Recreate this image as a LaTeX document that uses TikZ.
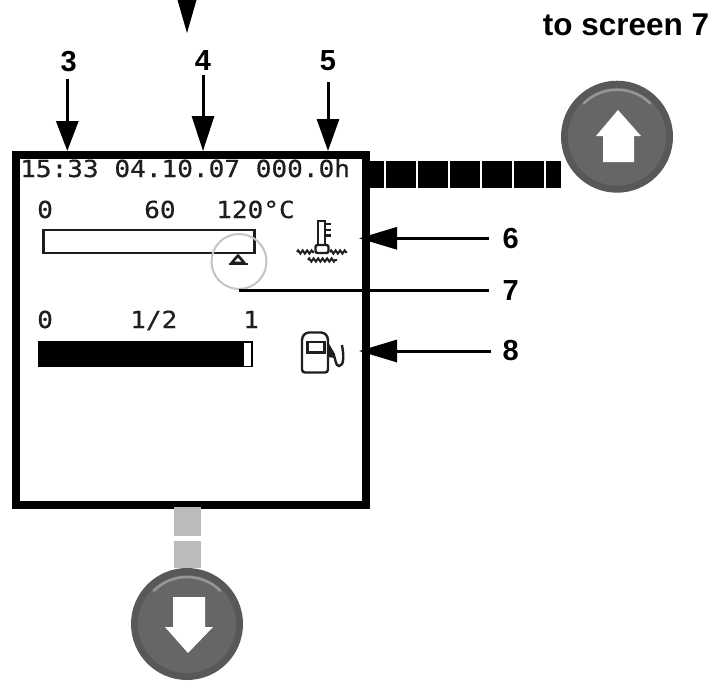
\documentclass[tikz,border=0pt]{standalone}
\usepackage{fontspec}
\setmainfont{Liberation Sans}
\newfontfamily\lcdfont[FakeBold=0.5]{DejaVu Sans Mono}
\usetikzlibrary{arrows.meta,positioning,decorations.pathmorphing}
\definecolor{lcdink}{RGB}{30,30,30}
\definecolor{ringgray}{RGB}{196,196,196}
\definecolor{linkgray}{RGB}{187,187,187}
\definecolor{btnedge}{RGB}{88,88,88}
\definecolor{btnface}{RGB}{102,102,102}
\definecolor{btnglow}{RGB}{150,150,150}
\tikzset{
  lbl/.style={font=\fontsize{29}{29}\selectfont\bfseries,text=black,inner sep=4pt},
  lcdtxt/.style={font=\fontsize{23.5}{24}\lcdfont,text=lcdink,anchor=base west,inner sep=0pt,xscale=1.11},
  lcdline/.style={draw=lcdink,line width=2.6pt},
  iconline/.style={draw=lcdink,line width=2.4pt},
  wave/.style={draw=lcdink,line width=2pt,decorate,decoration={zigzag,segment length=4.5pt,amplitude=1.6pt}},
  fl/.style={-{Stealth[length=#1,width=22pt,inset=0pt]},line width=3pt,draw=black},
  fl/.default=30pt,
  btn/.style={circle,minimum size=112pt,inner sep=0pt,fill=btnedge,
    path picture={
      \fill[btnface] (path picture bounding box.center) circle (49pt);
      \draw[btnglow,line width=2.5pt,line cap=round,shift={(path picture bounding box.center)}]
        (225:47) arc (225:315:47);
    }},
  btnarrow/.style={fill=white},
  blocks/.style={draw=black,line width=27pt,dash pattern=on 29.7pt off 2.3pt,dash phase=16pt},
  graylink/.style={draw=linkgray,line width=27pt,dash pattern=on 29pt off 5pt},
}
\begin{document}
\begin{tikzpicture}[x=1pt,y=-1pt]
  \useasboundingbox (0,0) rectangle (728,680);
  \node[draw=black,line width=8pt,minimum width=350pt,minimum height=350pt,fill=white] (screen) at (191,330) {};
  \node[btn] (upbtn) at (617,136.7) {};
  \node[btn] (downbtn) at (187,624) {};
  \fill[btnarrow] (618,110) -- (641,136) -- (634,136) -- (634,162) -- (603,162) -- (603,136) -- (596,136) -- cycle;
  \fill[btnarrow] (188,653) -- (213,627) -- (205,627) -- (205,597) -- (173,597) -- (173,627) -- (165,627) -- cycle;
  \coordinate (blocky) at (0,174.5);
  \draw[blocks] (screen.east |- blocky) -- (upbtn.west |- blocky);
  \draw[graylink] (187.5,507) -- (187.5,567.5);

  \node[lcdtxt] (clock) at (20,177) {15:33 04.10.07 000.0h};
  \node[lcdtxt] (tempmin) at (37,218) {0};
  \node[lcdtxt] (tempmid) at (144,218) {60};
  \node[lcdtxt] (tempmax) at (216,218) {120°C};
  \node[lcdtxt] (fuelmin) at (37,328) {0};
  \node[lcdtxt] (fuelmid) at (130,328) {1/2};
  \node[lcdtxt] (fuelmax) at (243,328) {1};

  \node[lcdline,minimum width=211pt,minimum height=23pt,inner sep=0pt] (tempbar) at (148.7,241.5) {};
  \draw[lcdline,fill=white,line join=round] (238,255.5) -- (231.5,263) -- (244.5,263) -- cycle;
  \draw[lcdline] (229,264) -- (248,264);
  \node[circle,draw=ringgray,line width=2pt,minimum size=55pt,inner sep=0pt] (ring) at (239,261.5) {};

  \node[draw=black,fill=black,minimum width=214pt,minimum height=25pt,inner sep=0pt,line width=1pt] (fuelbar) at (145.5,354) {};
  \node[fill=white,minimum width=6.5pt,minimum height=23pt,inner sep=0pt] (fuelrest) at (247.5,354.3) {};

  \draw[iconline] (318,245) -- (318,221) -- (325,221) -- (325,245);
  \draw[iconline] (325,224) -- (331,224) (325,230) -- (331,230) (325,235.5) -- (331,235.5);
  \draw[iconline,rounded corners=2pt] (315.5,245) rectangle (328.5,253);
  \draw[wave] (297,252) -- (314,252);
  \draw[wave] (330,252) -- (347,252);
  \draw[wave] (308,260) -- (337,260);

  \draw[iconline,rounded corners=3pt] (302,372.5) -- (302,337) -- (306,332.5) -- (324,332.5) -- (328,337) -- (328,372.5) -- cycle;
  \draw[iconline] (307.5,342) rectangle (324.5,352.5);
  \fill[lcdink] (328,342) -- (335,354) -- (335,358) -- (328,357) -- cycle;
  \draw[iconline] (333,354) .. controls (336,358) and (335,366) .. (339,366) .. controls (344,366) and (344,356) .. (342,345);

  \node[font=\fontsize{31.5}{32}\selectfont\bfseries,inner sep=0pt] (toscreen) at (626,25) {to screen 7};
  \node[lbl] (lblthree) at (68.7,62) {3};
  \node[lbl] (lblfour) at (203,61) {4};
  \node[lbl] (lblfive) at (328,61) {5};
  \node[lbl] (lblsix) at (510.7,238.3) {6};
  \node[lbl] (lblseven) at (510.7,290.5) {7};
  \node[lbl] (lbleight) at (510.7,351) {8};
  \coordinate (topstart) at (187,0);
  \coordinate (topend) at (187,33);
  \coordinate (thermotip) at (359,238.3);
  \coordinate (pumptip) at (359,351);
  \draw[{Stealth[length=33pt,width=19pt,inset=0pt]}-,draw=black,line width=0pt] (topend) -- (topstart);
  \draw[fl] ([shift={(-1.4pt,-3pt)}]lblthree.south) -- ([xshift=-1.4pt]lblthree.south |- screen.north);
  \draw[fl=35pt] (lblfour.south) -- (lblfour.south |- screen.north);
  \draw[fl=32pt] ([yshift=-7pt]lblfive.south) -- (lblfive.south |- screen.north);
  \draw[fl=38pt] ([xshift=-9pt]lblsix.west) -- (thermotip);
  \draw[line width=3pt] ([xshift=-9pt]lblseven.west) -- (ring.south |- lblseven.west);
  \draw[fl=38pt] ([xshift=-7pt]lbleight.west) -- (pumptip);
\end{tikzpicture}
\end{document}
